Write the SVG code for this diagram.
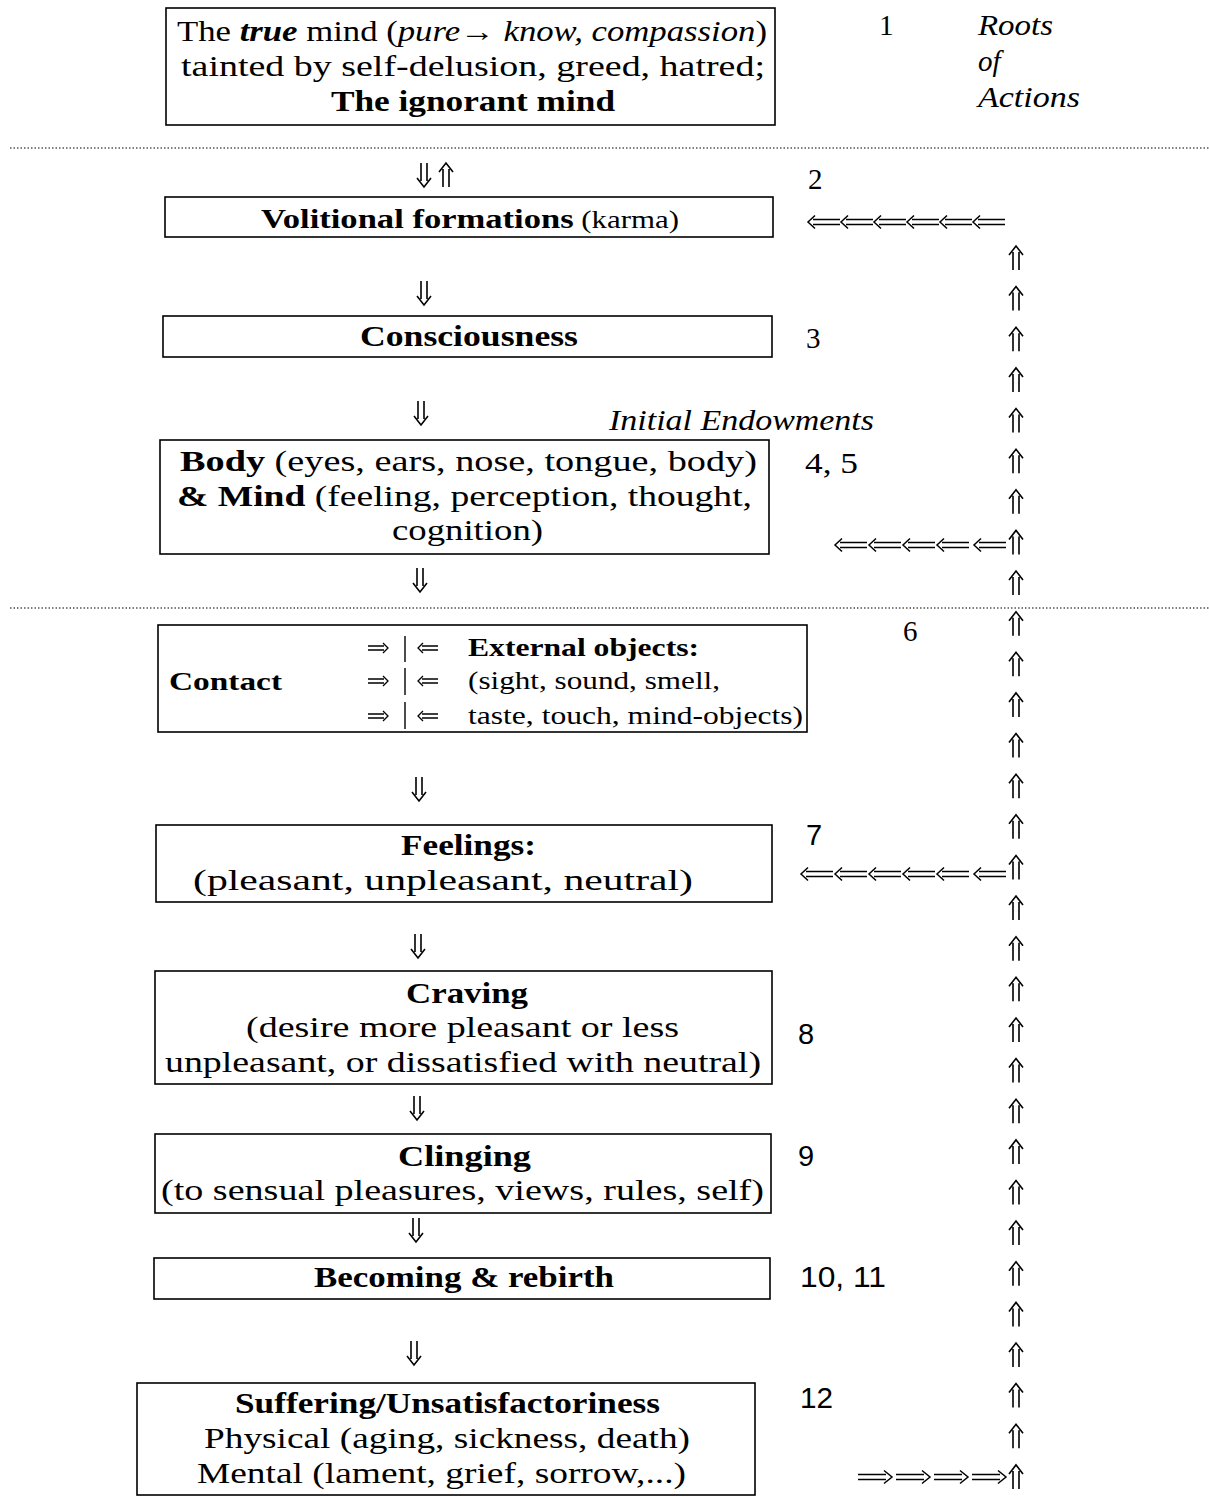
<svg xmlns="http://www.w3.org/2000/svg" xmlns:xlink="http://www.w3.org/1999/xlink" width="1209" height="1497" viewBox="0 0 1209 1497">
<style>
.box{fill:none;stroke:#000;stroke-width:1.6}
.t{font-family:"Liberation Serif",serif;font-size:29px;fill:#000}
.c{font-family:"Liberation Serif",serif;font-size:25px;fill:#000}
.s{font-family:"Liberation Sans",sans-serif;font-size:29px;fill:#000}
.b{font-weight:bold}
.i{font-style:italic}
.dot{stroke:#000;stroke-width:1.2;stroke-dasharray:1.5 2;fill:none}
.bar{stroke:#000;stroke-width:1.4}
</style>
<defs>
<path id="up" d="M-3,12V-6M3,12V-6M-7,-3L0,-12L7,-3" fill="none" stroke="#000" stroke-width="1.6" stroke-linejoin="miter"/>
<path id="down" d="M-3,-12V6M3,-12V6M-7,3L0,12L7,3" fill="none" stroke="#000" stroke-width="1.6"/>
<path id="left" d="M16,-2.5H-11M16,2.5H-11M-9,-6.5L-16,0L-9,6.5" fill="none" stroke="#000" stroke-width="1.5"/>
<path id="right" d="M-17,-2.5H11M-17,2.5H11M9,-6.5L17,0L9,6.5" fill="none" stroke="#000" stroke-width="1.5"/>
<path id="sleft" d="M10,-2H-6M10,2H-6M-5,-5L-10,0L-5,5" fill="none" stroke="#000" stroke-width="1.3"/>
<path id="sright" d="M-10,-2H6M-10,2H6M5,-5L10,0L5,5" fill="none" stroke="#000" stroke-width="1.3"/>
</defs>
<rect width="1209" height="1497" fill="#fff"/>

<!-- dotted separators -->
<line class="dot" x1="10" y1="148" x2="1209" y2="148"/>
<line class="dot" x1="10" y1="608" x2="1209" y2="608"/>

<g id="node1">
<rect class="box" x="166" y="8" width="609" height="117"/>
<text class="t" x="177" y="41" textLength="590" lengthAdjust="spacingAndGlyphs">The <tspan class="b i">true</tspan> mind (<tspan class="i">pure→ know, compassion</tspan>)</text>
<text class="t" x="181" y="76" textLength="584" lengthAdjust="spacingAndGlyphs">tainted by self-delusion, greed, hatred;</text>
<text class="t b" x="331" y="111" textLength="284" lengthAdjust="spacingAndGlyphs">The ignorant mind</text>
</g>
<g id="label1">
<text class="t" x="879" y="35" font-size="27">1</text>
<text class="t i" x="978" y="35" textLength="75" lengthAdjust="spacingAndGlyphs">Roots</text>
<text class="t i" x="978" y="71">of</text>
<text class="t i" x="978" y="107" textLength="102" lengthAdjust="spacingAndGlyphs">Actions</text>
</g>

<g id="node2">
<rect class="box" x="165" y="197" width="608" height="40"/>
<text class="t" x="261" y="228" textLength="418" lengthAdjust="spacingAndGlyphs"><tspan class="b" font-size="28">Volitional formations</tspan><tspan font-size="25"> (karma)</tspan></text>
</g>
<text class="t" x="808" y="189" font-size="27">2</text>

<g id="node3">
<rect class="box" x="163" y="316" width="609" height="41"/>
<text class="t b" x="360" y="346" textLength="218" lengthAdjust="spacingAndGlyphs">Consciousness</text>
</g>
<text class="t" x="806" y="348" font-size="27">3</text>

<text class="t i" x="609" y="430" font-size="27" textLength="265" lengthAdjust="spacingAndGlyphs">Initial Endowments</text>

<g id="node4">
<rect class="box" x="160" y="440" width="609" height="114"/>
<text class="t" x="180" y="471" textLength="577" lengthAdjust="spacingAndGlyphs"><tspan class="b">Body</tspan> (eyes, ears, nose, tongue, body)</text>
<text class="t" x="177" y="506" textLength="575" lengthAdjust="spacingAndGlyphs"><tspan class="b">&amp; Mind</tspan> (feeling, perception, thought,</text>
<text class="t" x="392" y="540" textLength="151" lengthAdjust="spacingAndGlyphs">cognition)</text>
</g>
<text class="t" x="805" y="473" font-size="27" textLength="53" lengthAdjust="spacingAndGlyphs">4, 5</text>

<g id="node5">
<rect class="box" x="158" y="625" width="649" height="107"/>
<text class="c b" x="169" y="690" textLength="113" lengthAdjust="spacingAndGlyphs">Contact</text>
<use xlink:href="#sright" x="378" y="648"/>
<use xlink:href="#sright" x="378" y="681"/>
<use xlink:href="#sright" x="378" y="716"/>
<line class="bar" x1="405" y1="636" x2="405" y2="662"/>
<line class="bar" x1="405" y1="668" x2="405" y2="695"/>
<line class="bar" x1="405" y1="702" x2="405" y2="729"/>
<use xlink:href="#sleft" x="428" y="648"/>
<use xlink:href="#sleft" x="428" y="681"/>
<use xlink:href="#sleft" x="428" y="716"/>
<text class="c b" x="468" y="656" textLength="231" lengthAdjust="spacingAndGlyphs">External objects:</text>
<text class="c" x="468" y="689" textLength="252" lengthAdjust="spacingAndGlyphs">(sight, sound, smell,</text>
<text class="c" x="468" y="724" textLength="335" lengthAdjust="spacingAndGlyphs">taste, touch, mind-objects)</text>
</g>
<text class="t" x="903" y="641" font-size="27">6</text>

<g id="node6">
<rect class="box" x="156" y="825" width="616" height="77"/>
<text class="t b" x="401" y="855" textLength="135" lengthAdjust="spacingAndGlyphs">Feelings:</text>
<text class="t" x="193" y="890" textLength="500" lengthAdjust="spacingAndGlyphs">(pleasant, unpleasant, neutral)</text>
</g>
<text class="s" x="806" y="845">7</text>

<g id="node7">
<rect class="box" x="155" y="971" width="617" height="113"/>
<text class="t b" x="406" y="1003" textLength="122" lengthAdjust="spacingAndGlyphs">Craving</text>
<text class="t" x="246" y="1037" textLength="433" lengthAdjust="spacingAndGlyphs">(desire more pleasant or less</text>
<text class="t" x="165" y="1072" textLength="596" lengthAdjust="spacingAndGlyphs">unpleasant, or dissatisfied with neutral)</text>
</g>
<text class="s" x="798" y="1044">8</text>

<g id="node8">
<rect class="box" x="155" y="1134" width="616" height="79"/>
<text class="t b" x="398" y="1166" textLength="133" lengthAdjust="spacingAndGlyphs">Clinging</text>
<text class="t" x="161" y="1200" textLength="603" lengthAdjust="spacingAndGlyphs">(to sensual pleasures, views, rules, self)</text>
</g>
<text class="s" x="798" y="1166">9</text>

<g id="node9">
<rect class="box" x="154" y="1258" width="616" height="41"/>
<text class="t b" x="314" y="1287" textLength="300" lengthAdjust="spacingAndGlyphs">Becoming &amp; rebirth</text>
</g>
<text class="s" x="800" y="1287" textLength="86" lengthAdjust="spacingAndGlyphs">10, 11</text>

<g id="node10">
<rect class="box" x="137" y="1383" width="618" height="112"/>
<text class="t b" x="235" y="1413" textLength="425" lengthAdjust="spacingAndGlyphs">Suffering/Unsatisfactoriness</text>
<text class="t" x="204" y="1448" textLength="486" lengthAdjust="spacingAndGlyphs">Physical (aging, sickness, death)</text>
<text class="t" x="197" y="1483" textLength="489" lengthAdjust="spacingAndGlyphs">Mental (lament, grief, sorrow,...)</text>
</g>
<text class="s" x="800" y="1408" textLength="33" lengthAdjust="spacingAndGlyphs">12</text>

<g id="connectors">
<!-- central downward flow -->
<use xlink:href="#down" x="424" y="175"/>
<use xlink:href="#up" x="446" y="175"/>
<use xlink:href="#down" x="424" y="293"/>
<use xlink:href="#down" x="421" y="413"/>
<use xlink:href="#down" x="420" y="580"/>
<use xlink:href="#down" x="419" y="789"/>
<use xlink:href="#down" x="418" y="946"/>
<use xlink:href="#down" x="417" y="1108"/>
<use xlink:href="#down" x="416" y="1230"/>
<use xlink:href="#down" x="414" y="1353"/>
<!-- feedback column -->
<use xlink:href="#up" x="1016" y="258"/>
<use xlink:href="#up" x="1016" y="298.6"/>
<use xlink:href="#up" x="1016" y="339.3"/>
<use xlink:href="#up" x="1016" y="379.9"/>
<use xlink:href="#up" x="1016" y="420.5"/>
<use xlink:href="#up" x="1016" y="461.2"/>
<use xlink:href="#up" x="1016" y="501.8"/>
<use xlink:href="#up" x="1016" y="542.4"/>
<use xlink:href="#up" x="1016" y="583"/>
<use xlink:href="#up" x="1016" y="623.7"/>
<use xlink:href="#up" x="1016" y="664.3"/>
<use xlink:href="#up" x="1016" y="704.9"/>
<use xlink:href="#up" x="1016" y="745.6"/>
<use xlink:href="#up" x="1016" y="786.2"/>
<use xlink:href="#up" x="1016" y="826.8"/>
<use xlink:href="#up" x="1016" y="867.5"/>
<use xlink:href="#up" x="1016" y="908.1"/>
<use xlink:href="#up" x="1016" y="948.7"/>
<use xlink:href="#up" x="1016" y="989.3"/>
<use xlink:href="#up" x="1016" y="1030"/>
<use xlink:href="#up" x="1016" y="1070.6"/>
<use xlink:href="#up" x="1016" y="1111.2"/>
<use xlink:href="#up" x="1016" y="1151.9"/>
<use xlink:href="#up" x="1016" y="1192.5"/>
<use xlink:href="#up" x="1016" y="1233.1"/>
<use xlink:href="#up" x="1016" y="1273.8"/>
<use xlink:href="#up" x="1016" y="1314.4"/>
<use xlink:href="#up" x="1016" y="1355"/>
<use xlink:href="#up" x="1016" y="1395.6"/>
<use xlink:href="#up" x="1016" y="1436.3"/>
<use xlink:href="#up" x="1016" y="1476.9"/>
<!-- row to Volitional formations -->
<use xlink:href="#left" x="824" y="222"/>
<use xlink:href="#left" x="857" y="222"/>
<use xlink:href="#left" x="890" y="222"/>
<use xlink:href="#left" x="923" y="222"/>
<use xlink:href="#left" x="956" y="222"/>
<use xlink:href="#left" x="989" y="222"/>
<!-- row to Body & Mind -->
<use xlink:href="#left" x="851" y="545"/>
<use xlink:href="#left" x="885" y="545"/>
<use xlink:href="#left" x="919" y="545"/>
<use xlink:href="#left" x="953" y="545"/>
<use xlink:href="#left" x="990" y="545"/>
<!-- row to Feelings -->
<use xlink:href="#left" x="817" y="874"/>
<use xlink:href="#left" x="851" y="874"/>
<use xlink:href="#left" x="885" y="874"/>
<use xlink:href="#left" x="919" y="874"/>
<use xlink:href="#left" x="953" y="874"/>
<use xlink:href="#left" x="990" y="874"/>
<!-- row from Suffering -->
<use xlink:href="#right" x="875" y="1477"/>
<use xlink:href="#right" x="913" y="1477"/>
<use xlink:href="#right" x="951" y="1477"/>
<use xlink:href="#right" x="989" y="1477"/>
</g>
</svg>
